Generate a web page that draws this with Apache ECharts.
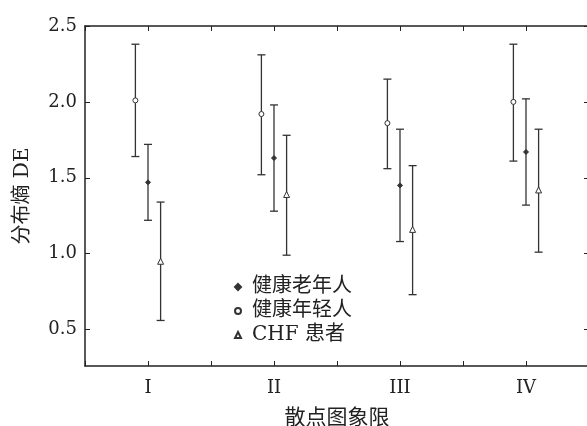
<!DOCTYPE html>
<html>
<head>
<meta charset="utf-8">
<script src="https://cdn.jsdelivr.net/npm/echarts@6/dist/echarts.min.js"></script>
<style>html,body{margin:0;padding:0;background:#fff;}#c{width:587px;height:426px;}</style>
</head>
<body>
<div id="c"></div>
<script>
var categories = ['I', 'II', 'III', 'IV'];
var yTicks = [0.5, 1.0, 1.5, 2.0, 2.5];
var seriesNames = ['健康老年人', '健康年轻人', 'CHF 患者'];
var elderlyMean = [1.47, 1.63, 1.45, 1.67];
var elderlyLow  = [1.22, 1.28, 1.08, 1.32];
var elderlyHigh = [1.72, 1.98, 1.82, 2.02];
var youngMean = [2.01, 1.92, 1.86, 2.00];
var youngLow  = [1.64, 1.52, 1.56, 1.61];
var youngHigh = [2.38, 2.31, 2.15, 2.38];
var chfMean = [0.95, 1.39, 1.16, 1.42];
var chfLow  = [0.56, 0.99, 0.73, 1.01];
var chfHigh = [1.34, 1.78, 1.58, 1.82];

var serif = "'DejaVu Serif', 'Noto Sans CJK SC', serif";
var ink = '#333';

function build(mean, low, high, offset) {
  var pts = [], bars = [];
  for (var i = 0; i < categories.length; i++) {
    var x = i + 1 + offset;
    pts.push([x, mean[i]]);
    bars.push([x, low[i], high[i]]);
  }
  return {pts: pts, bars: bars};
}
var groups = [
  {name: seriesNames[0], d: build(elderlyMean, elderlyLow, elderlyHigh, 0), symbol: 'diamond', size: 5, fill: ink},
  {name: seriesNames[1], d: build(youngMean, youngLow, youngHigh, -0.1), symbol: 'circle', size: 5, fill: '#fff'},
  {name: seriesNames[2], d: build(chfMean, chfLow, chfHigh, 0.1), symbol: 'triangle', size: 6, fill: '#fff'}
];

function renderBar(params, api) {
  var x = api.value(0);
  var p1 = api.coord([x, api.value(1)]);
  var p2 = api.coord([x, api.value(2)]);
  var w = 4;
  var st = {stroke: ink, lineWidth: 1.3};
  return {type: 'group', children: [
    {type: 'line', shape: {x1: p1[0], y1: p1[1], x2: p2[0], y2: p2[1]}, style: st},
    {type: 'line', shape: {x1: p1[0] - w, y1: p1[1], x2: p1[0] + w, y2: p1[1]}, style: st},
    {type: 'line', shape: {x1: p2[0] - w, y1: p2[1], x2: p2[0] + w, y2: p2[1]}, style: st}
  ]};
}

var series = [];
groups.forEach(function (g, k) {
  series.push({
    type: 'custom', name: 'bar' + k, renderItem: renderBar,
    encode: {x: 0, y: [1, 2]}, data: g.d.bars, z: 2
  });
});
groups.forEach(function (g) {
  series.push({
    type: 'scatter', name: g.name, data: g.d.pts, symbol: g.symbol, symbolSize: g.size,
    itemStyle: {color: g.fill, borderColor: ink, borderWidth: 1, opacity: 1}, z: 3
  });
});

var axisLine = {show: true, lineStyle: {color: '#222', width: 1.5}};
var tick = {show: true, inside: true, length: 5, lineStyle: {color: '#222', width: 1}};

var chart = echarts.init(document.getElementById('c'), null, {renderer: 'canvas'});
chart.setOption({
  animation: false,
  backgroundColor: '#fff',
  grid: {left: 85, top: 26, width: 504, bottom: 60, containLabel: false, outerBoundsMode: 'none'},
  legend: {
    data: seriesNames, orient: 'vertical', left: 229, top: 272,
    itemWidth: 6, itemHeight: 6, itemGap: 4,
    textStyle: {fontFamily: serif, fontSize: 20, color: '#222', padding: [0, 0, 0, 6]},
    inactiveColor: '#222'
  },
  xAxis: [{
    type: 'value', min: 0.5, max: 4.5, interval: 0.5, position: 'bottom',
    axisLine: axisLine, axisTick: tick, splitLine: {show: false},
    axisLabel: {
      show: true, margin: 13, fontFamily: serif, fontSize: 18, color: '#222',
      formatter: function (v) { return Math.abs(v - Math.round(v)) < 1e-6 && v >= 1 && v <= categories.length ? categories[Math.round(v) - 1] : ''; }
    },
    name: '散点图象限', nameLocation: 'middle', nameGap: 42,
    nameTextStyle: {fontFamily: serif, fontSize: 21, color: '#222'}
  }, {
    type: 'value', min: 0.5, max: 4.5, interval: 0.5, position: 'top',
    axisLine: axisLine, axisTick: tick, axisLabel: {show: false}, splitLine: {show: false}
  }],
  yAxis: [{
    type: 'value', min: 0.26, max: 2.5, position: 'left',
    axisLine: axisLine, splitLine: {show: false},
    axisTick: {show: true, inside: true, length: 5, lineStyle: {color: '#222', width: 1}, customValues: yTicks},
    axisLabel: {show: true, margin: 8, fontFamily: serif, fontSize: 18, color: '#222', customValues: yTicks,
      formatter: function (v) { return v.toFixed(1); }},
    name: '分布熵 DE', nameLocation: 'middle', nameGap: 52, nameRotate: 90,
    nameTextStyle: {fontFamily: serif, fontSize: 20, color: '#222'}
  }, {
    type: 'value', min: 0.26, max: 2.5, position: 'right',
    axisLine: axisLine, splitLine: {show: false},
    axisTick: {show: true, inside: true, length: 5, lineStyle: {color: '#222', width: 1}, customValues: yTicks},
    axisLabel: {show: false}
  }],
  series: series
});
</script>
</body>
</html>
